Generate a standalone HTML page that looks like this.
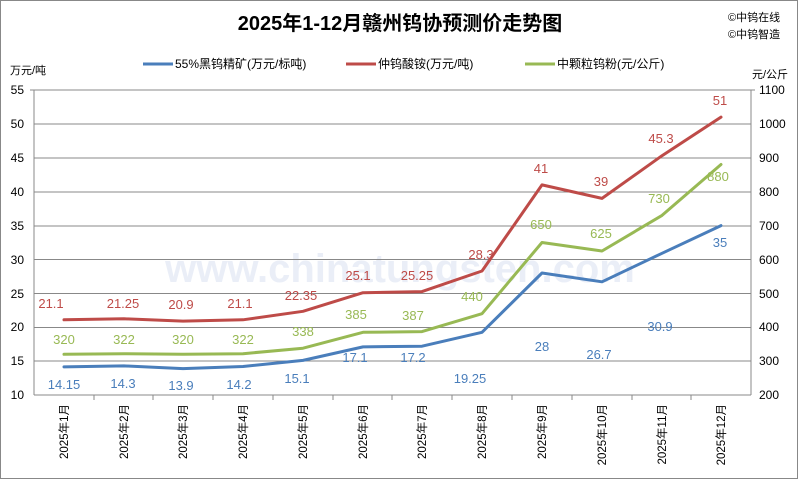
<!DOCTYPE html>
<html><head><meta charset="utf-8"><style>
body{margin:0;background:#fff}
svg{display:block;font-family:"Liberation Sans","Noto Sans CJK SC",sans-serif}
</style></head><body>
<svg width="800" height="480" viewBox="0 0 800 480" xmlns="http://www.w3.org/2000/svg">
<rect x="0.5" y="0.5" width="797" height="478" fill="#fff" stroke="#888"/>
<text x="400" y="30" text-anchor="middle" font-size="20" font-weight="bold" fill="#000">2025年1-12月赣州钨协预测价走势图</text>
<text x="728" y="21" font-size="11" fill="#000">©中钨在线</text>
<text x="728" y="38" font-size="11" fill="#000">©中钨智造</text>
<g font-size="12" fill="#000">
<line x1="143" y1="64" x2="173" y2="64" stroke="#4a7ebb" stroke-width="3"/><text x="175" y="68">55%黑钨精矿(万元/标吨)</text>
<line x1="346" y1="64" x2="376" y2="64" stroke="#be4b48" stroke-width="3"/><text x="378" y="68">仲钨酸铵(万元/吨)</text>
<line x1="525" y1="64" x2="555" y2="64" stroke="#98b954" stroke-width="3"/><text x="557" y="68">中颗粒钨粉(元/公斤)</text>
<text x="10" y="74" font-size="11">万元/吨</text>
<text x="752" y="78" font-size="11">元/公斤</text>
</g>
<text x="400" y="282" text-anchor="middle" font-size="40" font-weight="bold" fill="#dde4f3" opacity="0.6">www.chinatungsten.com</text>
<g stroke="#888" stroke-width="1">
<line x1="34" y1="90" x2="751" y2="90"/><line x1="34" y1="124" x2="751" y2="124"/><line x1="34" y1="158" x2="751" y2="158"/><line x1="34" y1="192" x2="751" y2="192"/><line x1="34" y1="226" x2="751" y2="226"/><line x1="34" y1="259.5" x2="751" y2="259.5"/><line x1="34" y1="293.5" x2="751" y2="293.5"/><line x1="34" y1="327.5" x2="751" y2="327.5"/><line x1="34" y1="361" x2="751" y2="361"/><line x1="34" y1="395" x2="751" y2="395"/>
<line x1="34" y1="90" x2="34" y2="395"/><line x1="751" y1="90" x2="751" y2="395"/>
<line x1="30" y1="90" x2="34" y2="90"/><line x1="751" y1="90" x2="755" y2="90"/>
<line x1="94" y1="395" x2="94" y2="400"/><line x1="153" y1="395" x2="153" y2="400"/><line x1="213" y1="395" x2="213" y2="400"/><line x1="273" y1="395" x2="273" y2="400"/><line x1="333" y1="395" x2="333" y2="400"/><line x1="392" y1="395" x2="392" y2="400"/><line x1="452" y1="395" x2="452" y2="400"/><line x1="512" y1="395" x2="512" y2="400"/><line x1="572" y1="395" x2="572" y2="400"/><line x1="632" y1="395" x2="632" y2="400"/><line x1="691" y1="395" x2="691" y2="400"/>
</g>
<g font-size="12" fill="#000" text-anchor="end">
<text x="24" y="94">55</text><text x="24" y="128">50</text><text x="24" y="162">45</text><text x="24" y="196">40</text><text x="24" y="230">35</text><text x="24" y="264">30</text><text x="24" y="298">25</text><text x="24" y="331">20</text><text x="24" y="365">15</text><text x="24" y="399">10</text>
</g>
<g font-size="12" fill="#000">
<text x="759" y="94">1100</text><text x="759" y="128">1000</text><text x="759" y="162">900</text><text x="759" y="196">800</text><text x="759" y="230">700</text><text x="759" y="264">600</text><text x="759" y="298">500</text><text x="759" y="331">400</text><text x="759" y="365">300</text><text x="759" y="399">200</text>
</g>
<g font-size="11.5" fill="#000" text-anchor="end">
<text transform="translate(68,404) rotate(-90)">2025年1月</text>
<text transform="translate(128,404) rotate(-90)">2025年2月</text>
<text transform="translate(187,404) rotate(-90)">2025年3月</text>
<text transform="translate(247,404) rotate(-90)">2025年4月</text>
<text transform="translate(307,404) rotate(-90)">2025年5月</text>
<text transform="translate(367,404) rotate(-90)">2025年6月</text>
<text transform="translate(426,404) rotate(-90)">2025年7月</text>
<text transform="translate(486,404) rotate(-90)">2025年8月</text>
<text transform="translate(546,404) rotate(-90)">2025年9月</text>
<text transform="translate(606,404) rotate(-90)">2025年10月</text>
<text transform="translate(666,404) rotate(-90)">2025年11月</text>
<text transform="translate(725,404) rotate(-90)">2025年12月</text>
</g>
<g fill="none" stroke-width="3" stroke-linejoin="round" stroke-linecap="round">
<polyline stroke="#4a7ebb" points="64,366.9 124,365.9 183,368.6 243,366.5 303,360.4 363,346.9 422,346.2 482,332.3 542,273 602,281.8 662,253.3 721,225.6"/>
<polyline stroke="#be4b48" points="64,319.8 124,318.8 183,321.1 243,319.8 303,311.3 363,292.7 422,291.6 482,271 542,184.9 602,198.4 662,155.7 721,117.1"/>
<polyline stroke="#98b954" points="64,354.3 124,353.7 183,354.3 243,353.7 303,348.2 363,332.3 422,331.6 482,313.7 542,242.5 602,251 662,215.4 721,164.5"/>
</g>
<g font-size="13" text-anchor="middle" fill="#4a7ebb">
<text x="64" y="389">14.15</text><text x="123" y="388">14.3</text><text x="181" y="390">13.9</text><text x="239" y="389">14.2</text><text x="297" y="383">15.1</text><text x="355" y="362">17.1</text><text x="413" y="362">17.2</text><text x="470" y="383">19.25</text><text x="542" y="351">28</text><text x="599" y="359">26.7</text><text x="660" y="331">30.9</text><text x="720" y="247">35</text>
</g>
<g font-size="13" text-anchor="middle" fill="#be4b48">
<text x="51" y="308">21.1</text><text x="123" y="308">21.25</text><text x="181" y="309">20.9</text><text x="240" y="308">21.1</text><text x="301" y="300">22.35</text><text x="358" y="280">25.1</text><text x="417" y="280">25.25</text><text x="481" y="259">28.3</text><text x="541" y="173">41</text><text x="601" y="186">39</text><text x="661" y="143">45.3</text><text x="720" y="105">51</text>
</g>
<g font-size="13" text-anchor="middle" fill="#98b954">
<text x="64" y="344">320</text><text x="124" y="344">322</text><text x="183" y="344">320</text><text x="243" y="344">322</text><text x="303" y="336">338</text><text x="356" y="319">385</text><text x="413" y="320">387</text><text x="472" y="301">440</text><text x="541" y="229">650</text><text x="601" y="238">625</text><text x="659" y="203">730</text><text x="718" y="181">880</text>
</g>
</svg>
</body></html>
